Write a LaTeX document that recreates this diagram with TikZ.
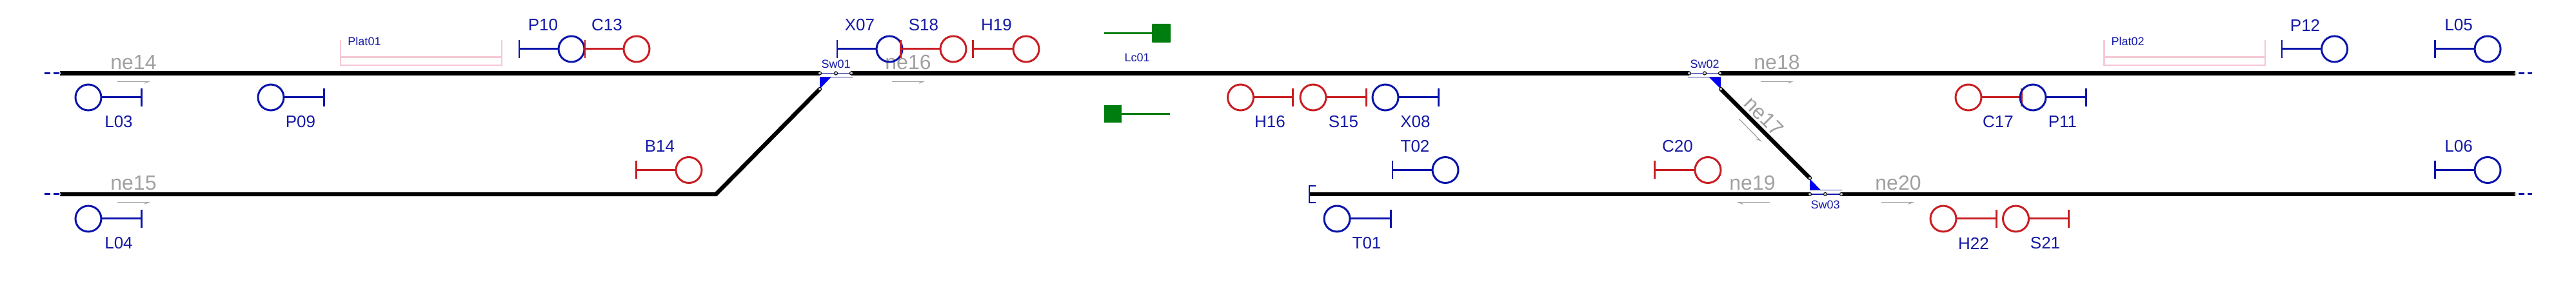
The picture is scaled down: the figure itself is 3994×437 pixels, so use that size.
\documentclass[tikz,border=0pt]{standalone}
\usepackage{fontspec}
\setmainfont{Liberation Sans}
\usetikzlibrary{arrows.meta}
\definecolor{sigblue}{RGB}{10,20,170}
\definecolor{sigred}{RGB}{200,30,35}
\definecolor{txtblue}{RGB}{20,25,165}
\definecolor{neigray}{RGB}{160,160,160}
\definecolor{platpink}{RGB}{245,200,212}
\definecolor{lcgreen}{RGB}{0,125,15}
\tikzset{
  track/.style={line width=3.2pt,black,line join=miter},
  swnode/.style={circle,draw=black,fill=gray!40,line width=.5pt,minimum size=2.6pt,inner sep=0pt,outer sep=0pt},
  endnode/.style={circle,fill=gray!50,minimum size=1.8pt,inner sep=0pt,outer sep=0pt},
  swlink/.style={line width=.55pt,txtblue},
  swbar/.style={line width=.7pt,txtblue!75!gray},
  wedge/.style={fill=blue!95!black,draw=none},
  sighead/.style={circle,draw=#1,line width=1.5pt,minimum size=20pt,inner sep=0pt,outer sep=0pt},
  sigstem/.style={draw=#1,line width=1.5pt,-{Bar[width=14pt,line width=1.3pt]}},
  siglabel/.style={text=txtblue,font=\fontsize{13}{13}\selectfont,inner sep=0pt},
  smalllabel/.style={text=txtblue,font=\fontsize{9}{9}\selectfont,inner sep=0pt},
  nelabel/.style={text=neigray,font=\fontsize{16}{16}\selectfont,inner sep=0pt},
  nearrow/.style={draw=neigray,line width=.6pt,-{Straight Barb[right,length=3pt,width=2.5pt]}},
  nearrowl/.style={draw=neigray,line width=.6pt,-{Straight Barb[left,length=3pt,width=2.5pt]}},
  plat/.style={draw=platpink,line width=1.1pt},
  extdash/.style={draw=sigblue,line width=1.5pt,dash pattern=on 4.5pt off 2.5pt},
  lcbox/.style={fill=lcgreen,draw=none,inner sep=0pt,outer sep=0pt},
  lcline/.style={draw=lcgreen,line width=1.3pt}
}
% id, circle x, y, bar x, colour, label, label x, label y
\newcommand{\railsig}[8]{%
  \node[sighead=#5] (#1) at (#2,#3) {};
  \coordinate (#1-bar) at (#4,#3);
  \draw[sigstem=#5] (#1) -- (#1-bar);
  \node[siglabel] (#1-lab) at (#7,#8) {#6};
}
% id, x0, x1, label x
\newcommand{\platform}[4]{%
  \coordinate (#1-a) at (#2,62);
  \coordinate (#1-b) at (#2,101);
  \coordinate (#1-c) at (#3,101);
  \coordinate (#1-d) at (#3,62);
  \coordinate (#1-e) at (#2,88.5);
  \coordinate (#1-f) at (#3,88.5);
  \draw[plat] (#1-a) -- (#1-b) -- (#1-c) -- (#1-d);
  \draw[plat] (#1-e) -- (#1-f);
  \node[smalllabel] (#1-lab) at (#4,64) {#1};
}
\begin{document}
\begin{tikzpicture}[x=.5pt,y=-.5pt]
\useasboundingbox (0,0) rectangle (3994,437);
% track points
\coordinate (tw) at (93,113.5);
\coordinate (lw) at (93,301);
\coordinate (te) at (3900,113.5);
\coordinate (le) at (3900,301);
\coordinate (xa) at (69,113.5);
\coordinate (xb) at (69,301);
\coordinate (xc) at (3926,113.5);
\coordinate (xd) at (3926,301);
\coordinate (bend) at (1110,301);
\coordinate (bt) at (2030,301);
% platforms
\platform{Plat01}{528}{778}{565}
\platform{Plat02}{3262.5}{3512}{3299}
% switch wedges
\fill[wedge] (1271,120) -- (1288,120) -- (1271,138) -- cycle;
\fill[wedge] (2650,120) -- (2668,120) -- (2668,138) -- cycle;
\fill[wedge] (2806,277) -- (2806,294.5) -- (2823,294.5) -- cycle;
% tracks
\draw[extdash] (xa) -- (tw);
\draw[extdash] (xb) -- (lw);
\draw[extdash] (te) ++(5,0) -- (xc);
\draw[extdash] (le) ++(5,0) -- (xd);
\coordinate (s1a) at (1271,113.5);
\coordinate (s1d) at (1320,113.5);
\coordinate (s1b) at (1271,138);
\coordinate (s2a) at (2619,113.5);
\coordinate (s2d) at (2667,113.5);
\coordinate (s2b) at (2668,138);
\coordinate (s3a) at (2806,301);
\coordinate (s3d) at (2855,301);
\coordinate (s3b) at (2806,276);
\draw[track] (tw) -- (s1a);
\draw[track] (s1d) -- (s2a);
\draw[track] (s2d) -- (te);
\draw[track] (lw) -- (bend) -- (s1b);
\draw[track] (s2b) -- (s3b);
\draw[track] (bt) -- (s3a);
\draw[track] (s3d) -- (le);
\node[endnode] (twn) at (tw) {};
\node[endnode] (lwn) at (lw) {};
\node[endnode] (ten) at (te) {};
\node[endnode] (len) at (le) {};
% switches
\node[swnode] (s1an) at (s1a) {};
\node[swnode] (s1c) at (1296,113.5) {};
\node[swnode] (s1dn) at (s1d) {};
\node[swnode] (s1bn) at (s1b) {};
\draw[swlink] (s1an) -- (s1c) -- (s1dn);
\draw[swbar] (1271,119.5) -- (1322,119.5);
\node[smalllabel] (Sw01) at (1296,99) {Sw01};
\node[swnode] (s2an) at (s2a) {};
\node[swnode] (s2c) at (2643,113.5) {};
\node[swnode] (s2dn) at (s2d) {};
\node[swnode] (s2bn) at (s2b) {};
\draw[swlink] (s2an) -- (s2c) -- (s2dn);
\draw[swbar] (2617,119.5) -- (2668,119.5);
\node[smalllabel] (Sw02) at (2643,99) {Sw02};
\node[swnode] (s3an) at (s3a) {};
\node[swnode] (s3c) at (2830,301) {};
\node[swnode] (s3dn) at (s3d) {};
\node[swnode] (s3bn) at (s3b) {};
\draw[swlink] (s3an) -- (s3c) -- (s3dn);
\draw[swbar] (2806,294.5) -- (2856,294.5);
\node[smalllabel] (Sw03) at (2830,317) {Sw03};
% buffer stop
\draw[draw=sigblue,line width=1.3pt] (2040,288) -- (2030,288) -- (2030,314) -- (2040,314);
% edge labels and direction arrows
\node[nelabel] (ne14) at (207,96.5) {ne14};
\draw[nearrow] (182,126.5) -- (233,126.5);
\node[nelabel] (ne15) at (207,283.5) {ne15};
\draw[nearrow] (182,313.7) -- (233,313.7);
\node[nelabel] (ne16) at (1408,96.5) {ne16};
\draw[nearrow] (1383,126.5) -- (1434,126.5);
\node[nelabel,rotate=-45] (ne17) at (2735,180) {ne17};
\draw[nearrow] (2696,184) -- (2731.5,220);
\node[nelabel] (ne18) at (2755,96.5) {ne18};
\draw[nearrow] (2730,126.5) -- (2781,126.5);
\node[nelabel] (ne19) at (2717,283.5) {ne19};
\draw[nearrowl] (2744,313.7) -- (2693,313.7);
\node[nelabel] (ne20) at (2943,283.5) {ne20};
\draw[nearrow] (2917,313.7) -- (2968,313.7);
% signals
\railsig{L03}{137}{151}{221}{sigblue}{L03}{184}{189}
\railsig{P09}{420}{151}{504}{sigblue}{P09}{466}{189}
\railsig{L04}{137}{339}{221}{sigblue}{L04}{184}{377}
\railsig{P10}{886}{76}{803.5}{sigblue}{P10}{842}{39}
\railsig{C13}{987}{76}{905.6}{sigred}{C13}{941}{39}
\railsig{B14}{1068}{263.5}{985}{sigred}{B14}{1023}{227}
\railsig{X07}{1379}{76}{1296.6}{sigblue}{X07}{1333}{39}
\railsig{S18}{1478}{76}{1395}{sigred}{S18}{1432}{39}
\railsig{H19}{1591}{76}{1507}{sigred}{H19}{1545}{39}
\railsig{H16}{1923.5}{151}{2006}{sigred}{H16}{1969}{189}
\railsig{S15}{2036}{151}{2120}{sigred}{S15}{2083}{189}
\railsig{X08}{2148}{151}{2232}{sigblue}{X08}{2194.5}{189}
\railsig{T02}{2241}{263.5}{2157.5}{sigblue}{T02}{2194}{227}
\railsig{T01}{2073}{339}{2157.5}{sigblue}{T01}{2119}{377}
\railsig{C20}{2648}{263.5}{2564}{sigred}{C20}{2601}{227}
\railsig{H22}{3013}{339}{3097}{sigred}{H22}{3060}{377}
\railsig{S21}{3125.5}{339}{3209}{sigred}{S21}{3171}{377}
\railsig{C17}{3052}{151}{3136}{sigred}{C17}{3098}{189}
\railsig{P11}{3152}{151}{3236}{sigblue}{P11}{3198}{189}
\railsig{P12}{3619.5}{76}{3536.5}{sigblue}{P12}{3574}{39}
\railsig{L05}{3857}{76}{3774}{sigblue}{L05}{3812}{39}
\railsig{L06}{3857}{263.5}{3774}{sigblue}{L06}{3812}{227}
% level crossing
\node[lcbox,minimum width=14.5pt,minimum height=14.5pt,rounded corners=.5pt] (lc1) at (1800.5,51.5) {};
\coordinate (lc1f) at (1712,51.5);
\draw[lcline] (lc1f) -- (lc1);
\node[lcbox,minimum width=13.5pt,minimum height=13.5pt] (lc2) at (1725.5,176.5) {};
\coordinate (lc2f) at (1814,176.5);
\draw[lcline] (lc2) -- (lc2f);
\node[smalllabel] (Lc01) at (1763,89) {Lc01};
\end{tikzpicture}
\end{document}
